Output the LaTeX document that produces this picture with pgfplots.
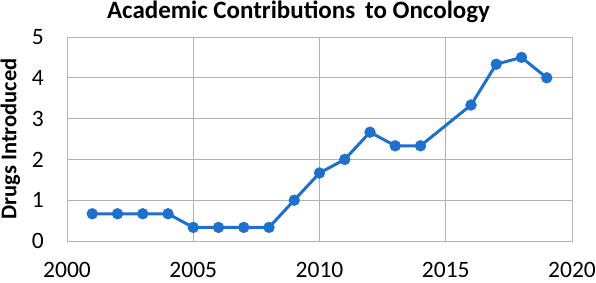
\documentclass[border=0pt]{standalone}
\usepackage{fontspec}
\setmainfont{Carlito}
\usepackage{pgfplots}
\pgfplotsset{compat=1.18}
\definecolor{lineblue}{RGB}{30,112,205}
\begin{document}
\begin{tikzpicture}
\begin{axis}[
  name=ax,
  scale only axis,
  width=505pt, height=204pt,
  xmin=2000, xmax=2020, ymin=0, ymax=5,
  xtick={2000,2005,2010,2015,2020},
  ytick={0,1,2,3,4,5},
  grid=major,
  grid style={gray!60, line width=0.9pt},
  axis line style={gray!60, line width=0.9pt},
  tick style={draw=none},
  /pgf/number format/assume math mode=true,
  /pgf/number format/1000 sep={},
  tick label style={font=\fontsize{23.5}{24}\selectfont},
  xticklabel style={inner ysep=0pt, anchor=north, yshift=-21pt},
  yticklabel style={inner xsep=0pt, anchor=east, xshift=-23pt},
  title={\textbf{Academic Contributions\, to Oncology}},
  title style={font=\fontsize{25}{25}\selectfont, at={(axis description cs:0.5,1)}, anchor=base, yshift=13pt, xshift=-21pt},
  ylabel={\textbf{Drugs Introduced}},
  ylabel style={font=\fontsize{22.5}{23}\selectfont, at={(axis description cs:-0.112,0.5)}, anchor=center, rotate=0},
]
\addplot[lineblue, line width=3pt, mark=*, mark size=5.5pt, mark options={solid, fill=lineblue, draw=lineblue, line width=0.3pt}] coordinates {
(2001,0.667) (2002,0.667) (2003,0.667) (2004,0.667)
(2005,0.333) (2006,0.333) (2007,0.333) (2008,0.333)
(2009,1.0) (2010,1.667) (2011,2.0) (2012,2.667)
(2013,2.333) (2014,2.333) (2016,3.333) (2017,4.333)
(2018,4.5) (2019,4.0)
};
\end{axis}
\pgfresetboundingbox
\path ([shift={(-67pt,-42pt)}]ax.south west) rectangle ([shift={(24pt,37pt)}]ax.north east);
\end{tikzpicture}
\end{document}
